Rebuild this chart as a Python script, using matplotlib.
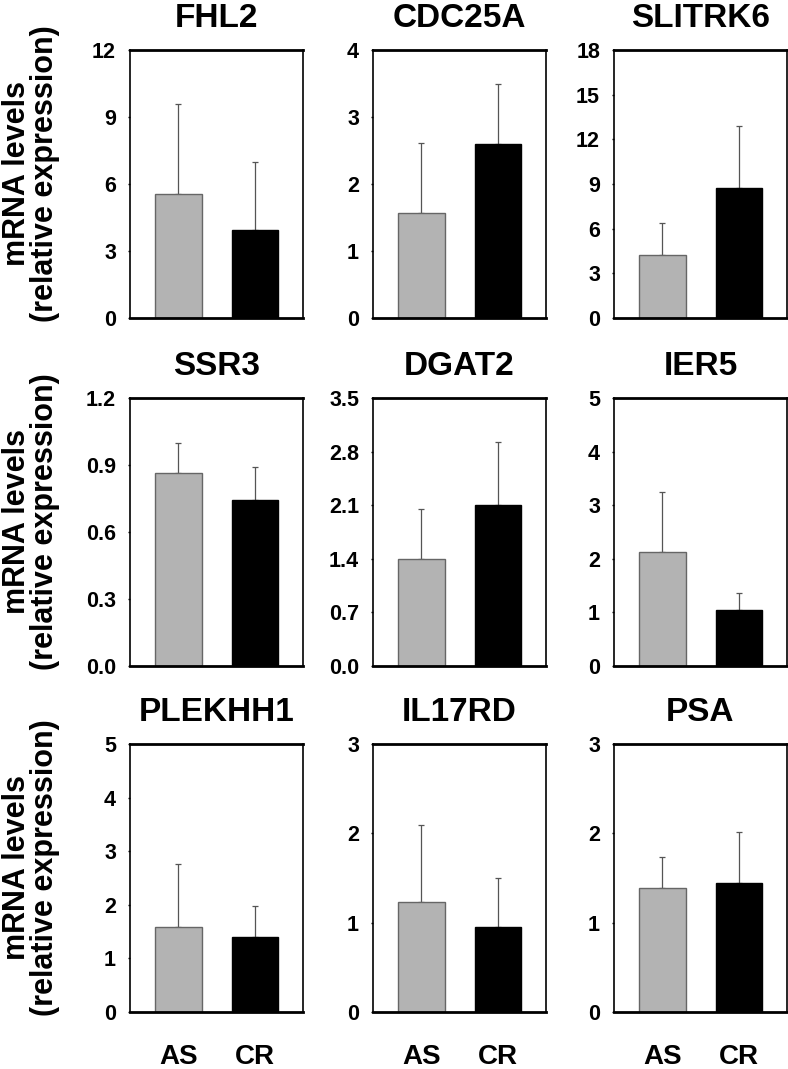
import matplotlib
matplotlib.use("Agg")
import matplotlib.pyplot as plt
import numpy as np

plt.rcParams['font.family'] = ['Liberation Sans', 'DejaVu Sans']
plt.rcParams['font.weight'] = 'bold'

genes = ["FHL2", "CDC25A", "SLITRK6",
         "SSR3", "DGAT2", "IER5",
         "PLEKHH1", "IL17RD", "PSA"]
groups = ["AS", "CR"]

# mean values (AS, CR)
as_means = [5.55, 1.57, 4.23, 0.863, 1.40, 2.12, 1.59, 1.23, 1.39]
cr_means = [3.92, 2.59, 8.75, 0.743, 2.10, 1.04, 1.39, 0.95, 1.445]
# upper error (top of whisker)
as_err_top = [9.57, 2.61, 6.4, 1.00, 2.05, 3.25, 2.77, 2.09, 1.74]
cr_err_top = [7.0, 3.49, 12.9, 0.893, 2.92, 1.37, 1.97, 1.50, 2.01]

ymax = [12, 4, 18, 1.2, 3.5, 5, 5, 3, 3]
ystep = [3, 1, 3, 0.3, 0.7, 1, 1, 1, 1]
yfmt = ["%d", "%d", "%d", "%.1f", "%.1f", "%d", "%d", "%d", "%d"]

W, H = 788, 1069
fig = plt.figure(figsize=(W / 100, H / 100), dpi=100)

col_left = [130, 373, 614]
row_top = [50, 398, 744]
aw, ah = 173, 268

for i, g in enumerate(genes):
    r, c = i // 3, i % 3
    ax = fig.add_axes([col_left[c] / W, 1 - (row_top[r] + ah) / H, aw / W, ah / H])
    means = [as_means[i], cr_means[i]]
    errs = [as_err_top[i] - as_means[i], cr_err_top[i] - cr_means[i]]
    x = np.arange(2)
    ax.errorbar(x, means, yerr=[[0, 0], errs], fmt="none", ecolor="#555555",
                elinewidth=0.9, capsize=2, capthick=0.9, zorder=1)
    ax.bar(x, means, width=0.6, color=["#b3b3b3", "black"],
           edgecolor=["#666666", "black"], linewidth=1, zorder=2)
    ax.set_xlim(-0.63, 1.62)
    ax.set_ylim(0, ymax[i])
    ticks = np.arange(0, ymax[i] + ystep[i] / 2, ystep[i])
    ax.set_yticks(ticks)
    ax.set_yticklabels([yfmt[i] % t for t in ticks])
    ax.tick_params(axis="y", length=1.5, width=1, pad=8.5, labelsize=15.5)
    if r == 2:
        ax.set_xticks(x)
        ax.set_xticklabels(groups, fontsize=20)
        ax.tick_params(axis="x", length=0, pad=23)
    else:
        ax.set_xticks([])
    for side in ["top", "bottom"]:
        ax.spines[side].set_linewidth(2)
    for side in ["left", "right"]:
        ax.spines[side].set_linewidth(1.2)
    ax.set_title(g, fontsize=24, fontweight="bold", pad=16.5)

for r in range(3):
    yc = row_top[r] + ah / 2 - 10
    fig.text(31 / W, 1 - yc / H, "mRNA levels\n(relative expression)",
             rotation=90, ha="center", va="center", fontsize=22,
             fontweight="bold", linespacing=0.95)

fig.savefig("out.png", dpi=100)
